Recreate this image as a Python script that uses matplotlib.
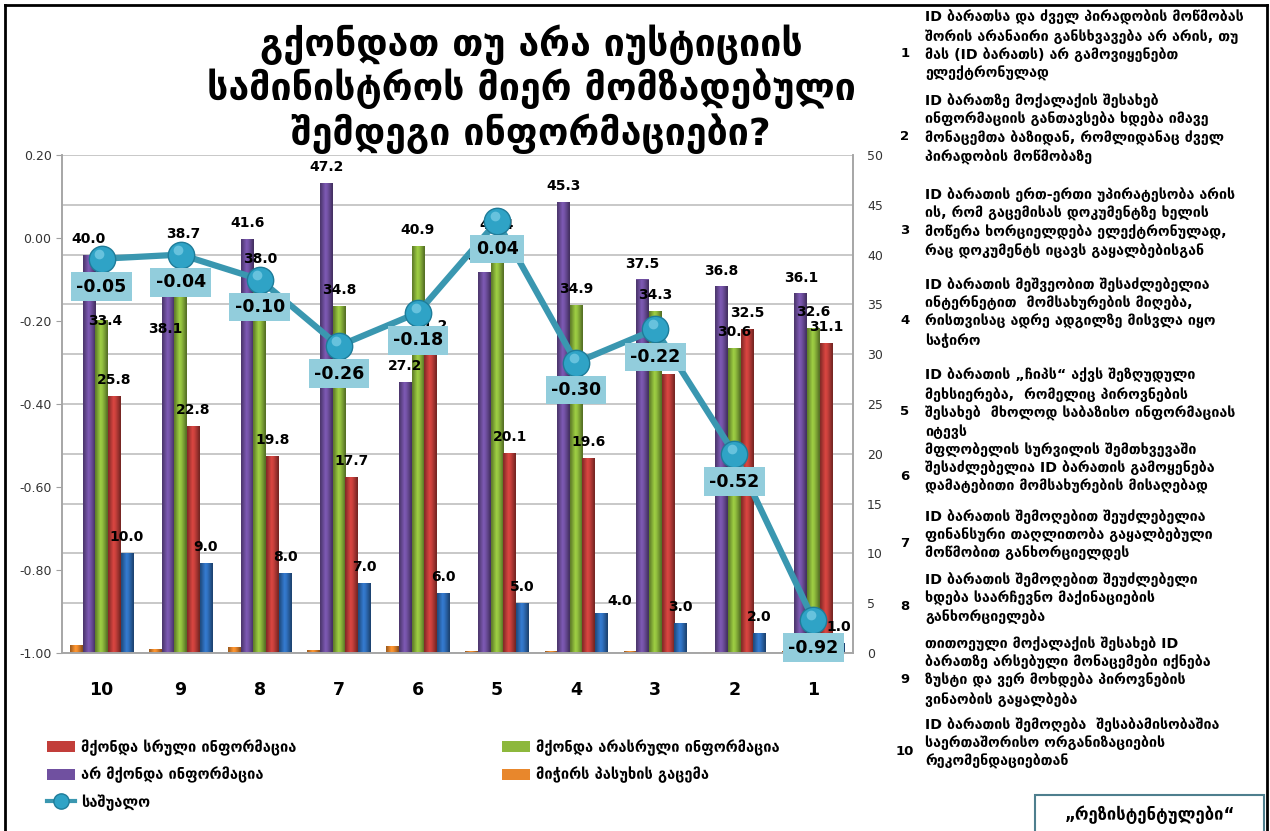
import numpy as np
import matplotlib
matplotlib.use("Agg")
from matplotlib import pyplot as plt
from matplotlib.patches import Patch, Rectangle
from matplotlib.lines import Line2D
import matplotlib.colors as mcolors

plt.rcParams['font.family'] = ['DejaVu Sans']

# --- data ---
categories = ["10", "9", "8", "7", "6", "5", "4", "3", "2", "1"]
ne_vici = [0.8, 0.4, 0.6, 0.3, 0.7, 0.2, 0.2, 0.2, 0.1, 0.2]          # orange
ar_mkonda = [40.0, 38.7, 41.6, 47.2, 27.2, 38.3, 45.3, 37.5, 36.8, 36.1]  # purple
arasruli = [33.4, 38.1, 38.0, 34.8, 40.9, 41.4, 34.9, 34.3, 30.6, 32.6]   # green
sruli = [25.8, 22.8, 19.8, 17.7, 31.2, 20.1, 19.6, 28.0, 32.5, 31.1]      # red
nomeri = [10, 9, 8, 7, 6, 5, 4, 3, 2, 1]                                  # blue
sashualo = [-0.05, -0.04, -0.10, -0.26, -0.18, 0.04, -0.30, -0.22, -0.52, -0.92]

leg_labels = ["მქონდა სრული ინფორმაცია", "მქონდა არასრული ინფორმაცია",
              "არ მქონდა ინფორმაცია", "მიჭირს პასუხის გაცემა", "საშუალო"]

title = "გქონდათ თუ არა იუსტიციის\nსამინისტროს მიერ მომზადებული\nშემდეგი ინფორმაციები?"

items = [
    "ID ბარათსა და ძველ პირადობის მოწმობას\nშორის არანაირი განსხვავება არ არის, თუ\nმას (ID ბარათს) არ გამოვიყენებთ\nელექტრონულად",
    "ID ბარათზე მოქალაქის შესახებ\nინფორმაციის განთავსება ხდება იმავე\nმონაცემთა ბაზიდან, რომლიდანაც ძველ\nპირადობის მოწმობაზე",
    "ID ბარათის ერთ-ერთი უპირატესობა არის\nის, რომ გაცემისას დოკუმენტზე ხელის\nმოწერა ხორციელდება ელექტრონულად,\nრაც დოკუმენტს იცავს გაყალბებისგან",
    "ID ბარათის მეშვეობით შესაძლებელია\nინტერნეტით  მომსახურების მიღება,\nრისთვისაც ადრე ადგილზე მისვლა იყო\nსაჭირო",
    "ID ბარათის „ჩიპს“ აქვს შეზღუდული\nმეხსიერება,  რომელიც პიროვნების\nშესახებ  მხოლოდ საბაზისო ინფორმაციას\nიტევს",
    "მფლობელის სურვილის შემთხვევაში\nშესაძლებელია ID ბარათის გამოყენება\nდამატებითი მომსახურების მისაღებად",
    "ID ბარათის შემოღებით შეუძლებელია\nფინანსური თაღლითობა გაყალბებული\nმოწმობით განხორციელდეს",
    "ID ბარათის შემოღებით შეუძლებელი\nხდება საარჩევნო მაქინაციების\nგანხორციელება",
    "თითოეული მოქალაქის შესახებ ID\nბარათზე არსებული მონაცემები იქნება\nზუსტი და ვერ მოხდება პიროვნების\nვინაობის გაყალბება",
    "ID ბარათის შემოღება  შესაბამისობაშია\nსაერთაშორისო ორგანიზაციების\nრეკომენდაციებთან",
]
item_nums = ["1", "2", "3", "4", "5", "6", "7", "8", "9", "10"]
stamp = "„რეზისტენტულები“"

# --- colours ---
c_orange = "#E8872C"
c_purple = "#7050A0"
c_green = "#8DB83C"
c_red = "#C23E3A"
c_blue = "#2F6EBA"
c_line = "#3A97B0"
c_marker = "#2FA3C6"
c_box = "#92CDDC"

W, H = 1270, 831
fig = plt.figure(figsize=(12.7, 8.31), dpi=100)

def fx(px):
    return px / W

def fy(py):
    return 1 - py / H

ax = fig.add_axes([fx(62), fy(653), fx(853) - fx(62), fy(155) - fy(653)])
ax2 = ax.twinx()
ax.set_zorder(ax2.get_zorder() + 1)
ax.patch.set_visible(False)

x = np.arange(len(categories))
w = 0.16


def shaded_bar(axis, xs, vals, color, offset):
    bars = axis.bar(xs + offset, vals, w, color=color, zorder=2)
    base = np.array(mcolors.to_rgb(color))
    prof = np.array([0.70, 0.85, 1.0, 1.12, 1.05, 0.92, 0.78, 0.62])
    grad = np.clip(base[None, :] * prof[:, None], 0, 1)[None, :, :]
    for b in bars:
        x0, y0 = b.get_x(), b.get_y()
        im = axis.imshow(grad, extent=(x0, x0 + b.get_width(), y0, y0 + b.get_height()),
                         aspect='auto', interpolation='bilinear', zorder=2.1)
        im.set_clip_path(b)
    return bars


shaded_bar(ax2, x, ne_vici, c_orange, -2 * w)
shaded_bar(ax2, x, ar_mkonda, c_purple, -w)
shaded_bar(ax2, x, arasruli, c_green, 0)
shaded_bar(ax2, x, sruli, c_red, w)
shaded_bar(ax2, x, nomeri, c_blue, 2 * w)

# value labels (right axis units)
nudge = {("g", 0): (0.05, -1.7), ("p", 1): (0.19, 1.8), ("g", 1): (-0.19, -7.2),
         ("b", 6): (0.23, -0.4)}
for key, vals, off in [("p", ar_mkonda, -w), ("g", arasruli, 0), ("r", sruli, w), ("b", nomeri, 2 * w)]:
    for i, v in enumerate(vals):
        dx, dy = nudge.get((key, i), (0, 0))
        ax2.text(x[i] + off + dx, v + 1.6 + dy, f"{v:.1f}", ha='center', va='center',
                 fontsize=10, fontweight='bold', color='black', zorder=3)

ax2.set_ylim(0, 50)
ax2.set_yticks(np.arange(0, 51, 5))
ax2.yaxis.grid(True, color='#BFBFBF', lw=1.2)
ax2.set_axisbelow(True)
ax2.tick_params(axis='y', labelsize=9, colors='#333333', length=0, pad=10)

# average line on left axis
ax.plot(x, sashualo, color=c_line, lw=4.5, zorder=4, solid_capstyle='round')
ax.plot(x, sashualo, 'o', ms=19, mfc=c_marker, mec='#1F7C99', mew=1, zorder=5)
ax.plot(x - 0.03, np.array(sashualo) + 0.012, 'o', ms=7, mfc='#7FD0E8', mec='none', alpha=0.7, zorder=6)
for i, v in enumerate(sashualo):
    ax.annotate(f"{v:.2f}", (x[i], v), xytext=(0, -20), textcoords='offset points',
                ha='center', va='center', fontsize=12.5, fontweight='bold', zorder=7,
                bbox=dict(boxstyle='square,pad=0.3', fc=c_box, ec='none'))

left_ticks = np.round(np.arange(-1.0, 0.21, 0.2), 2)
ax.set_ylim(-1.0, 0.2)
ax.set_yticks(left_ticks)
ax.set_yticklabels([f"{t + 0.0:.2f}" for t in left_ticks])
ax.tick_params(axis='y', labelsize=9, colors='#333333', length=4, color='#A0A0A0')
ax.set_xlim(-0.5, 9.5)
ax.set_xticks(x)
ax.set_xticklabels(categories, fontsize=12.5, fontweight='bold')
ax.tick_params(axis='x', length=0, pad=20)
for a in (ax, ax2):
    for s in a.spines.values():
        s.set_color('#A6A6A6')
        s.set_linewidth(1.2)
ax.spines['top'].set_visible(False)
ax2.spines['top'].set_visible(False)

# title
fig.text(fx(531), fy(89), title, ha='center', va='center', fontsize=27,
         fontweight='bold', linespacing=1.13)

# legends
h_red = Patch(fc=c_red, ec='none')
h_green = Patch(fc=c_green, ec='none')
h_purple = Patch(fc=c_purple, ec='none')
h_orange = Patch(fc=c_orange, ec='none')
h_line = Line2D([], [], color=c_line, lw=3, marker='o', ms=11, mfc=c_marker, mec='#1F7C99')
fig.legend([h_red, h_purple, h_line], [leg_labels[0], leg_labels[2], leg_labels[4]],
           loc='upper left', bbox_to_anchor=(fx(34), fy(726)), frameon=False,
           prop={'weight': 'bold', 'size': 10.5}, handlelength=1.9,
           handleheight=0.8, labelspacing=0.75, handletextpad=0.4)
fig.legend([h_green, h_orange], [leg_labels[1], leg_labels[3]],
           loc='upper left', bbox_to_anchor=(fx(489), fy(726)), frameon=False,
           prop={'weight': 'bold', 'size': 10.5}, handlelength=1.9,
           handleheight=0.8, labelspacing=0.75, handletextpad=0.4)

# numbered statements on the right
item_tops = [10, 93, 187, 277, 368, 442, 509, 572, 636, 717]
for num, txt, top in zip(item_nums, items, item_tops):
    nlines = txt.count("\n") + 1
    fig.text(fx(925), fy(top), txt, ha='left', va='top', fontsize=10.3,
             fontweight='bold', linespacing=1.32)
    fig.text(fx(905), fy(top + nlines * 9.7 + 5), num, ha='center', va='center',
             fontsize=9.5, fontweight='bold')

# frame around everything
fig.add_artist(Line2D([fx(5), fx(5)], [0, fy(5)], color='black', lw=2))
fig.add_artist(Line2D([fx(5), fx(1267)], [fy(5), fy(5)], color='black', lw=2))
fig.add_artist(Line2D([fx(1267), fx(1267)], [0, fy(5)], color='black', lw=2))

# stamp box bottom right
fig.add_artist(Rectangle((fx(1035), fy(835)), fx(1264) - fx(1035), fy(795) - fy(835),
                         fc='white', ec='#4E7F8E', lw=1.5))
fig.text(fx(1150), fy(815), stamp, ha='center', va='center', fontsize=12, fontweight='bold')

fig.savefig("out.png", dpi=100)
